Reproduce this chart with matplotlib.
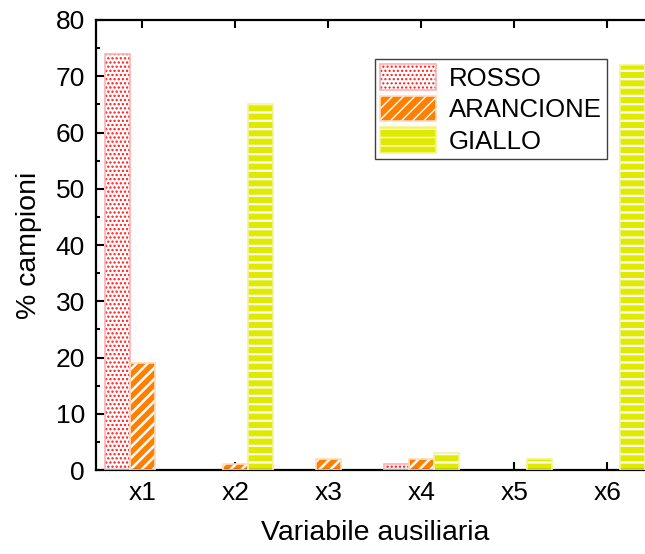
import matplotlib
matplotlib.use("Agg")
import matplotlib.pyplot as plt
from matplotlib.ticker import MultipleLocator
import numpy as np

plt.rcParams['font.family'] = ['Liberation Sans', 'DejaVu Sans']

# percentuale di campioni per variabile ausiliaria
categorie = ["x1", "x2", "x3", "x4", "x5", "x6"]
rosso = [74, 0, 0, 1, 0, 0]
arancione = [19, 1, 2, 2, 0, 0]
giallo = [0, 65, 0, 3, 2, 72]
etichette = ["ROSSO", "ARANCIONE", "GIALLO"]

fig = plt.figure(figsize=(6.45, 5.54), dpi=100)
ax = fig.add_axes([0.1488, 0.1516, 0.865, 0.8123])

x = np.arange(1, len(categorie) + 1)
w = 0.27

# (valori, offset, colore fondo, colore tratteggio, hatch, bordo, spessore tratteggio)
serie = [
    (rosso, -w, "white", "#ff1818", "....", "#ffb0b0", 1.1),
    (arancione, 0, "#ff8000", "white", "///", "#ffdcb8", 1.8),
    (giallo, w, "#e0ea00", "white", "--", "#f4f490", 1.6),
]

handles = []
for vals, off, fc, hc, hatch, ec, hlw in serie:
    vals = np.array(vals, dtype=float)
    m = vals > 0  # le barre a zero non si disegnano
    with plt.rc_context({'hatch.linewidth': hlw}):
        piene = ax.bar(x[m] + off, vals[m], w, color=fc, edgecolor=hc,
                       hatch=hatch, linewidth=0, zorder=2)
    bordo = ax.bar(x[m] + off, vals[m], w, fill=False, edgecolor=ec,
                   linewidth=1.2, zorder=3)
    handles.append((piene[0], bordo[0]))

ax.set_xlim(0.5, 6.5)
ax.set_ylim(0, 80)
ax.set_xticks(x)
ax.set_xticklabels(categorie)
ax.yaxis.set_major_locator(MultipleLocator(10))
ax.yaxis.set_minor_locator(MultipleLocator(5))
ax.tick_params(axis='both', which='both', direction='in', top=True, right=True,
               labelsize=19, width=1.5)
ax.tick_params(which='major', length=6, pad=8)
ax.tick_params(axis='y', which='minor', length=3)
ax.tick_params(axis='x', which='minor', bottom=False, top=False)
for s in ax.spines.values():
    s.set_linewidth(1.6)

ax.set_xlabel("Variabile ausiliaria", fontsize=20.5, labelpad=11)
ax.set_ylabel("% campioni", fontsize=20.5, labelpad=10)

leg = ax.legend(handles, etichette, loc='upper right',
                bbox_to_anchor=(0.916, 0.913), fontsize=18.5, fancybox=False,
                edgecolor='#404040', framealpha=1, handlelength=2.2,
                handleheight=1.15, borderpad=0.2, labelspacing=0.2,
                handletextpad=0.5, borderaxespad=0)
leg.get_frame().set_linewidth(1.0)

fig.savefig("out.png", dpi=100)
